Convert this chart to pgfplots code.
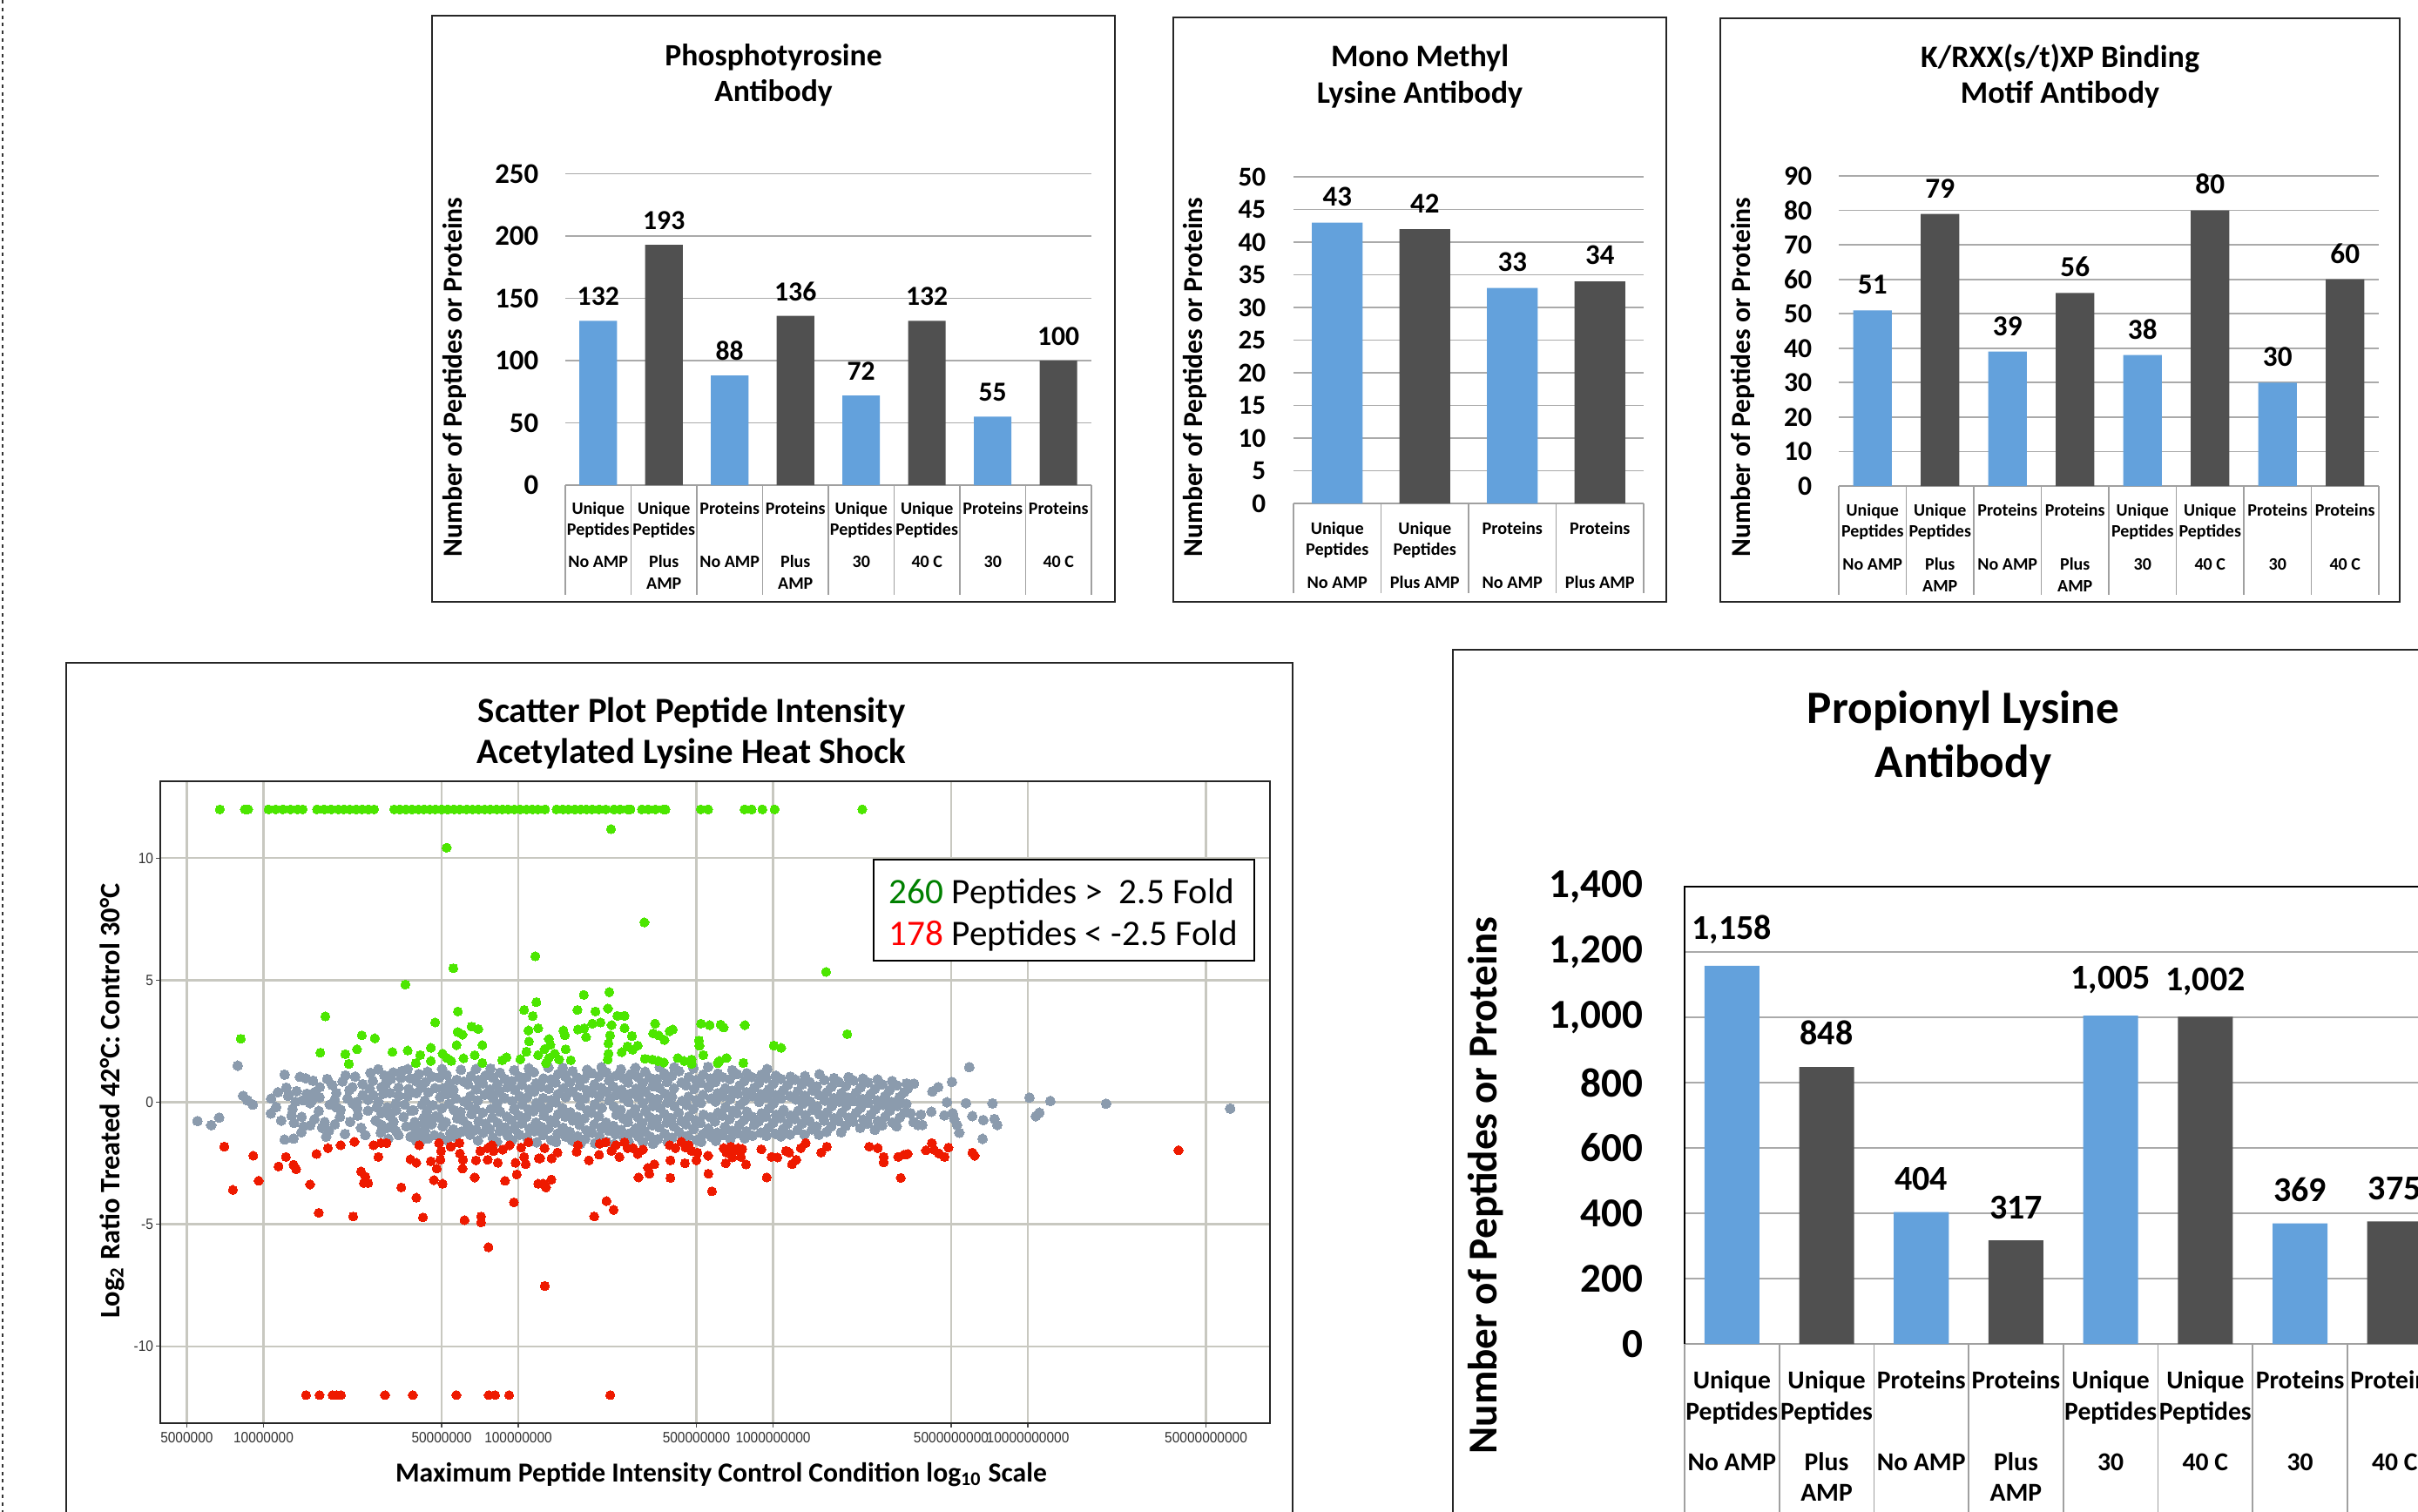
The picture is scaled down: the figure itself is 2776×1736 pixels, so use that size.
\documentclass[border=0pt]{standalone}
\usepackage{pgfplots}
\pgfplotsset{compat=1.18}
\usepackage{fontspec}
\setmainfont{Carlito}
\newfontfamily\arialf[FakeStretch=0.9]{Liberation Sans}
\definecolor{barblue}{RGB}{99,161,220}
\definecolor{bardark}{RGB}{80,80,80}
\definecolor{gridgray}{RGB}{170,170,170}
\definecolor{sepgray}{RGB}{160,160,160}
\definecolor{sgray}{RGB}{139,155,173}
\definecolor{sgreen}{RGB}{76,230,0}
\definecolor{sred}{RGB}{238,26,0}
\definecolor{sgrid}{RGB}{200,200,192}
\definecolor{lgreen}{RGB}{0,128,0}
\newcommand\fs[1]{\fontsize{#1}{#1}\selectfont}
\pgfplotsset{
 bars/.style={
   scale only axis, ybar, bar shift=0pt,
   xmin=-0.5, xmax=7.5, ymin=0,
   axis x line*=bottom, axis y line*=left,
   y axis line style={draw=none},
   x axis line style={-, draw=sepgray, line width=0.4pt},
   xtick=\empty,
   major tick length=0pt, ytick style={draw=none},
   ymajorgrids, grid style={draw=gridgray, line width=0.45pt},
   /pgf/number format/assume math mode=true,
   /pgf/number format/1000 sep={,},
   nodes near coords,
   clip=false,
   anchor=south west,
 },
 bblue/.style={fill=barblue, draw=none},
 bdark/.style={fill=bardark, draw=none},
}
\newcommand\cateight[7]{%
 \foreach \i/\a/\b/\c/\d in {0/Unique/Peptides/No AMP/{},1/Unique/Peptides/Plus/AMP,2/Proteins/{}/No AMP/{},3/Proteins/{}/Plus/AMP,4/Unique/Peptides/30/{},5/Unique/Peptides/40 C/{},6/Proteins/{}/30/{},7/Proteins/{}/40 C/{}}{%
   \path[font=\fs{#7}\bfseries] ({#1+#2*(\i+0.5)},#3) node[anchor=base,inner sep=0pt]{\a}
     ({#1+#2*(\i+0.5)},#4) node[anchor=base,inner sep=0pt]{\b}
     ({#1+#2*(\i+0.5)},#5) node[anchor=base,inner sep=0pt]{\c}
     ({#1+#2*(\i+0.5)},#6) node[anchor=base,inner sep=0pt]{\d};}}
\newcommand\seps[5]{\foreach \k in {0,...,#5}{\draw[sepgray, line width=0.4pt] ({#1+#2*\k},#3) -- ({#1+#2*\k},#4);}}
\begin{document}
\begin{tikzpicture}[x=0.25pt,y=-0.25pt]
\useasboundingbox (0,0) rectangle (2776,1736);
\clip (0,0) rectangle (2776,1736);
\fill[white] (0,0) rectangle (2776,1736);
% left dotted edge
\draw[black!80, line width=0.5pt, dash pattern=on 1pt off 1.2pt] (3,0) -- (3,1736);
% ---------------- Panel frames
\draw[black!85, line width=0.6pt] (496,18) rectangle (1280,691);
\draw[black!85, line width=0.6pt] (1347,20) rectangle (1913,691);
\draw[black!85, line width=0.6pt] (1975,21) rectangle (2755,691);
\draw[black!85, line width=0.6pt] (76,1760) -- (76,761) -- (1484,761) -- (1484,1760);
\draw[black!85, line width=0.6pt] (1668,1760) -- (1668,746) -- (2800,746);
% ================= Phosphotyrosine
\node[font=\fs{8.9pt}\bfseries, anchor=base] at (888,75) {Phosphotyrosine};
\node[font=\fs{8.9pt}\bfseries, anchor=base] at (888,116) {Antibody};
\node[font=\fs{7.9pt}\bfseries, rotate=90] at (522,433) {Number of Peptides or Proteins};
\begin{axis}[bars, at={(649*0.25pt,-557*0.25pt)}, width=151pt, height=89.375pt, ymax=250, ytick={0,50,...,250}, bar width=0.57,
 yticklabel style={font=\fs{8.2pt}\bfseries, inner sep=0pt, xshift=-7.5pt},
 nodes near coords style={font=\fs{7.9pt}\bfseries, inner sep=0pt, anchor=south, yshift=4.1pt}]
\addplot[bblue] coordinates {(0,132) (2,88) (4,72) (6,55)};
\addplot[bdark] coordinates {(1,193) (3,136) (5,132) (7,100)};
\end{axis}
\seps{649}{75.5}{557}{683}{8}
\cateight{649}{75.5}{590}{614}{651}{676}{5pt}
% ================= Mono Methyl
\node[font=\fs{9pt}\bfseries, anchor=base] at (1630,76) {Mono Methyl};
\node[font=\fs{9pt}\bfseries, anchor=base] at (1630,118) {Lysine Antibody};
\node[font=\fs{7.9pt}\bfseries, rotate=90] at (1372,433) {Number of Peptides or Proteins};
\begin{axis}[bars, at={(1485*0.25pt,-578*0.25pt)}, width=100.5pt, height=93.75pt, xmax=3.5, ymax=50, ytick={0,5,...,50}, bar width=0.58,
 yticklabel style={font=\fs{7.8pt}\bfseries, inner sep=0pt, xshift=-7.75pt},
 nodes near coords style={font=\fs{8.2pt}\bfseries, inner sep=0pt, anchor=south, yshift=4.5pt}]
\addplot[bblue] coordinates {(0,43) (2,33)};
\addplot[bdark] coordinates {(1,42) (3,34)};
\end{axis}
\seps{1485}{100.5}{578}{681}{4}
\foreach \i/\a/\b/\c in {0/Unique/Peptides/No AMP,1/Unique/Peptides/Plus AMP,2/Proteins/{}/No AMP,3/Proteins/{}/Plus AMP}{%
  \path[font=\fs{5.05pt}\bfseries] ({1485+100.5*(\i+0.5)},613) node[anchor=base,inner sep=0pt]{\a}
   ({1485+100.5*(\i+0.5)},637) node[anchor=base,inner sep=0pt]{\b}
   ({1485+100.5*(\i+0.5)},675) node[anchor=base,inner sep=0pt]{\c};}
% ================= K/RXX
\node[font=\fs{9pt}\bfseries, anchor=base] at (2365,77) {K/RXX(s/t)XP Binding};
\node[font=\fs{9pt}\bfseries, anchor=base] at (2365,118) {Motif Antibody};
\node[font=\fs{7.9pt}\bfseries, rotate=90] at (2001,433) {Number of Peptides or Proteins};
\begin{axis}[bars, at={(2111*0.25pt,-558*0.25pt)}, width=155pt, height=89pt, ymax=90, ytick={0,10,...,90}, bar width=0.57,
 yticklabel style={font=\fs{7.9pt}\bfseries, inner sep=0pt, xshift=-7.5pt},
 nodes near coords style={font=\fs{8.3pt}\bfseries, inner sep=0pt, anchor=south, yshift=4.4pt}]
\addplot[bblue] coordinates {(0,51) (2,39) (4,38) (6,30)};
\addplot[bdark] coordinates {(1,79) (3,56) (5,80) (7,60)};
\end{axis}
\seps{2111}{77.5}{558}{683}{8}
\cateight{2111}{77.5}{592}{616}{654}{679}{5pt}
% ================= Propionyl
\node[font=\fs{13.3pt}\bfseries, anchor=base] at (2254,830) {Propionyl Lysine};
\node[font=\fs{13.3pt}\bfseries, anchor=base] at (2254,892) {Antibody};
\node[font=\fs{11.8pt}\bfseries, rotate=90] at (1706,1361) {Number of Peptides or Proteins};
\begin{axis}[bars, at={(1934*0.25pt,-1543*0.25pt)}, width=217.4pt, height=131.25pt, ymax=1400, ytick={0,200,...,1400}, bar width=0.58,
 yticklabel style={font=\fs{11.8pt}\bfseries, inner sep=0pt, xshift=-11.75pt},
 nodes near coords style={font=\fs{10pt}\bfseries, inner sep=0pt, anchor=south, yshift=6pt}]
\addplot[bblue] coordinates {(0,1158) (2,404) (4,1005) (6,369)};
\addplot[bdark] coordinates {(1,848) (3,317) (5,1002) (7,375)};
\end{axis}
\draw[black, line width=0.6pt] (1934,1543) -- (1934,1018) -- (2810,1018);
\seps{1934}{108.7}{1543}{1740}{8}
\cateight{1934}{108.7}{1594}{1630}{1688}{1723}{7.4pt}
% ================= Scatter
\node[font=\fs{10.2pt}\bfseries, anchor=base] at (794,829) {Scatter Plot Peptide Intensity};
\node[font=\fs{10.2pt}\bfseries, anchor=base] at (794,876) {Acetylated Lysine Heat Shock};
\node[font=\fs{8.1pt}\bfseries, rotate=90] at (129,1264) {Log\textsubscript{2} Ratio Treated 42°C: Control 30°C};
\node[font=\fs{7.9pt}\bfseries, anchor=base] at (828,1701) {Maximum Peptide Intensity Control Condition log\textsubscript{10} Scale};
\begin{axis}[scale only axis, at={(184*0.25pt,-1634*0.25pt)}, anchor=south west, width=318.5pt, height=184.25pt,
 xmin=6.595, xmax=10.95, ymin=-13.15, ymax=13.15,
 xtick={6.69897,7,7.69897,8,8.69897,9,9.69897,10,10.69897},
 xticklabels={5000000,10000000,50000000,100000000,500000000,1000000000,5000000000,10000000000,50000000000},
 ytick={-10,-5,0,5,10}, yticklabels={-10,-5,0,5,10},
 grid=major, grid style={draw=sgrid, line width=0.6pt},
 tick align=outside, major tick length=1.2pt, tick style={black!70, line width=0.3pt},
 xtick pos=lower, ytick pos=left,
 axis line style={black!85, line width=0.5pt},
 ticklabel style={font=\arialf\fs{4.3pt}, text=black!80},
 yticklabel style={inner sep=0.6pt}, xticklabel style={inner sep=1.2pt},
 mark size=1.3pt]
\addplot[only marks, mark=*, mark size=1.4pt, color=sgray, mark options={draw=sgray, fill=sgray, line width=0pt}] coordinates {
(6.741,-0.77)(6.795,-0.94)(6.826,-0.63)(6.899,1.50)(6.92,0.26)(6.937,0.08)(6.958,-0.10)(7.029,-0.46)(7.083,1.13)(7.057,0.41)(7.083,-1.53)(7.118,-1.49)(7.143,1.04)(7.166,0.98)(7.194,0.88)(7.221,0.62)(7.097,0.26)(7.126,0.02)(7.154,0.08)(7.183,-0.04)(7.114,-0.27)(7.217,-0.36)(7.189,0.05)(7.157,-0.99)(7.183,-0.95)(7.149,-1.23)(7.24,-0.81)(7.28,-0.91)(7.257,-1.17)(7.246,-1.41)(7.286,0.38)(7.322,1.10)(7.337,0.50)(7.349,0.62)(7.286,-0.21)(7.303,-0.31)(7.368,0.02)(7.368,-0.24)(7.383,-1.05)(7.389,0.74)(7.417,0.56)(7.429,0.88)(7.474,1.10)(7.509,1.22)(7.543,1.28)(7.566,1.36)(7.577,0.98)(7.6,0.86)(7.463,0.62)(7.497,0.38)(7.531,0.26)(7.566,0.26)(7.6,0.38)(7.623,-0.10)(7.451,0.02)(7.486,-0.21)(7.52,-0.33)(7.554,-0.10)(7.589,-0.33)(7.463,-0.45)(7.497,-0.57)(7.463,-0.93)(7.486,-1.05)(7.52,-1.17)(7.56,-0.99)(7.594,-0.81)(7.629,-0.63)(7.577,-1.41)(7.6,-1.59)(7.623,-1.53)(7.612,-1.41)(7.48,0.75)(7.53,0.6)(7.55,-0.6)(7.51,-0.8)(7.6,-1.2)(7.445,-0.2)(7.43,0.3)
(7.03,0.15)(7.05,-0.2)(7.07,-0.75)(7.09,0.6)(7.11,-0.55)(7.13,0.45)(7.15,-0.6)(7.17,0.35)(7.2,-0.7)(7.22,0.2)(7.23,-1.05)(7.25,0.95)(7.26,-0.1)(7.27,0.7)(7.3,-0.6)(7.31,0.85)(7.32,-1.3)(7.33,0.15)(7.34,-0.8)(7.36,1.05)(7.37,-0.55)(7.39,0.3)(7.4,-1.35)(7.41,-0.35)(7.42,1.2)(7.44,-0.75)(7.45,1.35)(7.46,-1.25)(7.47,0.35)(7.49,-1.5)(7.5,0.95)(7.52,-0.05)(7.53,-1.35)(7.54,1.0)(7.57,0.55)(7.58,-0.35)(7.59,-1.0)(7.61,1.15)(7.62,0.6)(7.63,-0.95)(7.41,0.1)(7.35,-0.05)(7.28,0.1)(7.2,0.4)(7.12,-0.85)
(7.644,1.25)(7.636,0.83)(7.647,0.40)(7.633,0.07)(7.641,-0.38)(7.649,-0.70)(7.634,-1.15)(7.645,-1.49)
(7.662,1.05)(7.673,0.58)(7.665,-0.12)(7.676,-0.57)(7.66,-0.90)(7.671,-1.35)
(7.701,1.36)(7.69,1.01)(7.705,0.57)(7.693,0.21)(7.7,-0.25)(7.689,-0.63)(7.703,-0.99)(7.694,-1.43)
(7.719,1.12)(7.731,0.78)(7.722,0.33)(7.728,-0.07)(7.716,-0.82)(7.733,-1.27)(7.72,-1.56)
(7.758,0.92)(7.746,0.51)(7.756,0.15)(7.748,-0.33)(7.76,-0.66)(7.745,-1.11)(7.754,-1.43)
(7.775,1.33)(7.786,0.85)(7.788,0.03)(7.774,-0.39)(7.784,-0.75)(7.777,-1.21)
(7.814,1.07)(7.803,0.73)(7.812,0.25)(7.806,-0.15)(7.816,-0.49)(7.802,-0.95)(7.811,-1.33)
(7.834,1.36)(7.843,0.91)(7.836,0.53)(7.841,0.07)(7.832,-0.27)(7.844,-0.77)(7.835,-1.11)(7.842,-1.57)
(7.871,1.09)(7.861,0.77)(7.869,0.31)(7.86,-0.43)(7.872,-0.89)(7.863,-1.25)
(7.891,1.38)(7.899,1.01)(7.889,0.53)(7.901,0.17)(7.893,-0.27)(7.898,-0.63)(7.888,-1.09)(7.9,-1.45)
(7.928,1.21)(7.918,0.75)(7.926,0.41)(7.917,-0.05)(7.929,-0.39)(7.92,-0.85)(7.927,-1.19)(7.916,-1.62)
(7.948,0.95)(7.957,0.61)(7.946,0.17)(7.955,-0.59)(7.949,-1.03)(7.958,-1.37)
(7.984,1.31)(7.975,0.87)(7.986,0.51)(7.977,0.05)(7.983,-0.29)(7.974,-0.73)(7.985,-1.09)(7.976,-1.55)
(8.004,1.05)(8.014,0.71)(8.006,0.25)(8.015,-0.09)(8.003,-0.55)(8.012,-0.87)(8.005,-1.33)
(8.041,1.39)(8.032,1.03)(8.043,0.53)(8.034,0.19)(8.04,-0.29)(8.031,-0.61)(8.044,-1.07)(8.033,-1.43)
(8.061,1.23)(8.07,0.77)(8.062,0.43)(8.071,-0.03)(8.06,-0.37)(8.069,-0.83)(8.063,-1.19)(8.072,-1.64)
(8.099,0.97)(8.09,0.63)(8.098,0.17)(8.089,-0.23)(8.1,-0.55)(8.091,-1.01)(8.097,-1.35)
(8.118,1.42)(8.128,0.93)(8.12,0.55)(8.129,0.09)(8.117,-0.25)(8.127,-0.73)(8.119,-1.07)(8.13,-1.55)
(8.156,1.15)(8.146,0.81)(8.155,0.33)(8.147,-0.01)(8.157,-0.49)(8.145,-0.83)(8.154,-1.29)(8.148,-1.63)
(8.175,1.41)(8.185,1.05)(8.177,0.57)(8.186,0.21)(8.174,-0.25)(8.184,-0.59)(8.176,-1.05)(8.187,-1.41)
(8.213,1.27)(8.203,0.81)(8.212,0.45)(8.204,-0.41)(8.214,-0.75)(8.202,-1.21)(8.211,-1.57)
(8.232,1.01)(8.242,0.67)(8.234,0.21)(8.243,-0.13)(8.231,-0.59)(8.241,-0.93)(8.233,-1.39)(8.244,-1.70)
(8.27,1.33)(8.26,0.97)(8.269,0.49)(8.261,0.15)(8.271,-0.33)(8.259,-0.67)(8.268,-1.15)(8.262,-1.51)
(8.289,1.19)(8.299,0.73)(8.291,0.39)(8.3,-0.09)(8.288,-0.43)(8.298,-0.91)(8.29,-1.25)(8.301,-1.68)
(8.327,1.44)(8.317,1.07)(8.326,0.59)(8.318,0.23)(8.328,-0.23)(8.316,-0.57)(8.325,-1.03)(8.319,-1.39)
(8.346,1.23)(8.356,0.89)(8.348,0.41)(8.357,0.07)(8.345,-0.83)(8.355,-1.17)(8.347,-1.62)
(8.384,1.09)(8.374,0.63)(8.383,0.29)(8.375,-0.17)(8.385,-0.51)(8.373,-0.97)(8.382,-1.31)(8.376,-1.72)
(8.403,1.35)(8.413,0.99)(8.405,0.51)(8.414,0.17)(8.402,-0.31)(8.412,-0.67)(8.404,-1.13)(8.415,-1.47)
(8.441,1.15)(8.431,0.81)(8.44,0.35)(8.432,0.01)(8.442,-0.47)(8.43,-0.81)(8.439,-1.27)(8.433,-1.61)
(8.46,1.41)(8.47,1.03)(8.462,0.55)(8.471,0.21)(8.459,-0.27)(8.469,-0.61)(8.461,-1.07)(8.472,-1.41)
(8.498,1.25)(8.488,0.79)(8.497,0.43)(8.489,-0.03)(8.499,-0.37)(8.487,-0.85)(8.496,-1.19)(8.49,-1.64)
(8.517,0.99)(8.527,0.65)(8.519,0.19)(8.528,-0.15)(8.516,-0.61)(8.526,-0.95)(8.518,-1.41)(8.529,-1.70)
(8.555,1.43)(8.545,0.95)(8.554,0.59)(8.546,0.13)(8.556,-0.23)(8.544,-0.69)(8.553,-1.03)(8.547,-1.51)
(8.574,1.17)(8.584,0.83)(8.576,0.35)(8.585,-0.01)(8.573,-0.47)(8.583,-0.83)(8.575,-1.29)(8.586,-1.63)
(8.612,1.43)(8.602,1.07)(8.611,0.57)(8.603,0.23)(8.613,-0.17)(8.601,-0.65)(8.61,-0.99)(8.604,-1.45)
(8.631,1.27)(8.641,0.81)(8.642,0.05)(8.63,-0.43)(8.64,-0.77)(8.632,-1.23)(8.643,-1.56)
(8.669,1.03)(8.659,0.69)(8.668,0.23)(8.66,-0.11)(8.67,-0.57)(8.658,-0.91)(8.667,-1.37)(8.661,-1.66)
(8.688,1.39)(8.698,0.91)(8.69,0.55)(8.699,0.09)(8.687,-0.27)(8.697,-0.75)(8.689,-1.09)(8.7,-1.55)
(8.726,1.13)(8.716,0.79)(8.725,0.31)(8.717,-0.03)(8.727,-0.51)(8.715,-0.85)(8.724,-1.31)(8.718,-1.62)
(8.745,1.45)(8.755,0.97)(8.747,0.61)(8.756,0.15)(8.754,-0.61)(8.746,-1.07)(8.757,-1.41)
(8.783,1.17)(8.773,0.83)(8.782,0.37)(8.774,0.03)(8.784,-0.43)(8.772,-0.79)(8.781,-1.25)(8.775,-1.58)
(8.802,1.03)(8.812,0.57)(8.804,0.25)(8.813,-0.21)(8.801,-0.55)(8.811,-1.01)(8.803,-1.35)
(8.84,1.31)(8.83,0.95)(8.839,0.47)(8.831,0.13)(8.841,-0.35)(8.829,-0.69)(8.838,-1.17)(8.832,-1.51)
(8.859,1.15)(8.869,0.69)(8.861,0.35)(8.87,-0.11)(8.858,-0.45)(8.868,-0.93)(8.86,-1.27)
(8.897,1.19)(8.887,0.87)(8.896,0.41)(8.888,0.07)(8.898,-0.39)(8.886,-0.73)(8.895,-1.19)(8.889,-1.48)
(8.916,1.03)(8.926,0.59)(8.918,0.25)(8.917,-0.59)(8.925,-0.93)(8.919,-1.37)
(8.954,1.13)(8.944,0.79)(8.953,0.33)(8.945,0.01)(8.955,-0.45)(8.943,-0.79)(8.952,-1.25)
(8.973,0.99)(8.983,0.53)(8.975,0.19)(8.984,-0.25)(8.972,-0.59)(8.982,-1.05)(8.974,-1.38)
(9.011,1.09)(9.001,0.75)(9.01,0.29)(9.002,-0.05)(9.012,-0.51)(9.0,-0.85)(9.009,-1.29)
(9.03,0.95)(9.04,0.49)(9.032,0.15)(9.041,-0.31)(9.029,-0.65)(9.039,-1.09)(9.031,-1.40)
(9.068,1.05)(9.058,0.71)(9.067,0.25)(9.068,-0.55)(9.057,-0.89)(9.066,-1.32)
(9.087,0.93)(9.097,0.45)(9.089,0.11)(9.098,-0.35)(9.086,-0.69)(9.096,-1.13)
(9.125,1.07)(9.115,0.73)(9.124,0.27)(9.116,-0.07)(9.126,-0.53)(9.114,-0.87)(9.123,-1.33)
(9.144,0.83)(9.154,0.49)(9.146,0.03)(9.155,-0.31)(9.143,-0.77)(9.153,-1.11)
(9.182,1.15)(9.172,0.65)(9.181,0.29)(9.173,-0.17)(9.183,-0.51)(9.171,-0.99)(9.18,-1.33)
(9.201,0.91)(9.211,0.41)(9.203,0.07)(9.212,-0.41)(9.2,-0.75)(9.21,-1.21)
(9.239,0.99)(9.229,0.63)(9.238,0.17)(9.23,-0.17)(9.24,-0.65)(9.228,-0.99)
(9.258,0.83)(9.268,0.37)(9.26,0.03)(9.269,-0.43)(9.257,-0.77)(9.267,-1.23)
(9.296,1.03)(9.286,0.67)(9.295,0.19)(9.287,-0.15)(9.297,-0.63)(9.285,-0.97)
(9.315,0.89)(9.325,0.39)(9.317,0.05)(9.326,-0.43)(9.314,-0.79)
(9.353,0.97)(9.343,0.61)(9.352,0.13)(9.344,-0.23)(9.354,-0.71)(9.342,-1.05)
(9.372,0.81)(9.382,0.33)(9.374,-0.03)(9.383,-0.51)(9.371,-0.87)
(9.41,0.93)(9.4,0.55)(9.409,0.07)(9.401,-0.29)(9.411,-0.77)(9.399,-1.13)
(9.429,0.73)(9.439,0.25)(9.431,-0.11)(9.44,-0.59)(9.428,-0.95)
(9.467,0.87)(9.457,0.49)(9.466,0.01)(9.458,-0.35)(9.468,-0.83)
(9.486,0.69)(9.496,0.21)(9.488,-0.15)(9.497,-0.63)(9.485,-0.99)
(9.524,0.77)(9.514,0.41)(9.523,-0.07)(9.515,-0.43)
(9.528,0.56)(9.553,0.76)(9.625,0.44)(9.648,0.62)(9.702,0.83)(9.77,1.44)(9.682,0.0)(9.757,-0.04)(9.861,-0.05)(9.54,-0.45)(9.551,-0.81)(9.58,-0.51)(9.586,-0.93)(9.568,-0.93)(9.621,-0.39)(9.672,-0.54)(9.705,-0.45)(9.711,-0.69)(9.722,-0.93)(9.731,-1.25)(9.782,-0.57)(9.825,-0.73)(9.869,-0.69)(9.88,-0.93)(9.822,-1.50)(10.006,0.19)(10.088,0.05)(10.031,-0.57)(10.045,-0.43)(10.307,-0.06)(10.794,-0.26)(8.977,1.36)
};
\addplot[only marks, mark=*, color=sred, mark options={draw=sred, fill=sred, line width=0pt}] coordinates {
(6.846,-1.82)(6.88,-3.59)(6.96,-2.19)(6.981,-3.22)(7.059,-2.63)(7.088,-2.24)(7.118,-2.56)(7.128,-2.74)(7.183,-3.37)(7.208,-2.12)(7.217,-4.53)(7.253,-1.88)(7.303,-1.76)(7.352,-4.68)(7.357,-1.62)(7.383,-2.84)(7.4,-3.05)(7.411,-3.31)(7.394,-3.31)(7.432,-1.76)(7.451,-2.24)(7.461,-1.67)(7.483,-1.67)(7.541,-3.49)(7.577,-2.34)(7.6,-2.48)(7.6,-3.91)(7.611,-1.76)(7.626,-4.72)(7.657,-2.42)(7.669,-3.19)(7.68,-2.72)(7.689,-1.67)(7.697,-2.00)(7.703,-3.34)(7.694,-2.36)(7.735,-1.82)(7.769,-1.67)(7.771,-2.10)(7.783,-2.36)(7.781,-2.72)(7.789,-4.83)(7.829,-3.08)(7.834,-2.38)(7.851,-2.00)(7.854,-4.68)(7.854,-4.92)(7.88,-2.36)(7.883,-5.94)(7.897,-1.76)(7.92,-2.48)(7.939,-1.94)(7.948,-3.22)(7.966,-1.76)(7.983,-4.10)(7.989,-2.48)(7.994,-2.96)(8.011,-1.86)(8.023,-2.24)(8.029,-2.54)(8.04,-1.64)(8.078,-3.34)(8.08,-2.30)(7.88,-1.88)(7.903,-2.00)
(8.103,-1.88)(8.086,-2.30)(8.131,-2.30)(8.154,-2.06)(8.097,-3.34)(8.109,-3.49)(8.13,-3.17)(8.234,-1.76)(8.229,-2.03)(8.277,-2.38)(8.319,-1.70)(8.343,-1.64)(8.317,-2.15)(8.366,-2.00)(8.383,-1.76)(8.397,-2.24)(8.417,-1.64)(8.429,-1.88)(8.451,-1.88)(8.469,-2.12)(8.489,-1.94)(8.509,-2.69)(8.514,-2.93)(8.534,-2.54)(8.472,-3.08)(8.346,-4.05)(8.374,-4.41)(8.298,-4.68)(8.594,-1.76)(8.617,-1.88)(8.64,-1.62)(8.657,-1.86)(8.669,-1.76)(8.68,-2.00)(8.703,-2.06)(8.597,-2.38)(8.654,-2.50)(8.699,-2.38)(8.745,-2.19)(8.746,-2.93)(8.76,-3.65)(8.597,-3.10)(8.806,-1.88)(8.817,-2.06)(8.834,-1.82)(8.846,-2.00)(8.863,-1.88)(8.879,-1.91)(8.84,-2.26)(8.874,-2.24)(8.814,-2.50)(8.894,-2.55)(8.954,-1.93)(8.975,-3.08)(8.994,-2.24)(9.017,-2.26)(9.051,-2.00)(9.063,-2.06)(9.074,-2.54)(9.091,-2.36)(9.109,-1.88)(9.128,-1.67)(9.189,-2.06)(9.211,-1.82)(9.377,-1.82)(9.411,-1.88)(9.434,-2.24)(9.434,-2.46)(9.501,-3.10)(9.491,-2.24)(9.514,-2.15)
(9.528,-2.12)(9.6,-1.97)(9.623,-1.67)(9.631,-1.94)(9.651,-2.10)(9.673,-2.24)(9.688,-1.86)(9.782,-2.06)(9.791,-2.19)(10.591,-1.97)(8.104,-7.53)
(7.167,-12)(7.22,-12)(7.271,-12)(7.287,-12)(7.304,-12)(7.477,-12)(7.586,-12)(7.757,-12)(7.884,-12)(7.909,-12)(7.964,-12)(8.361,-12)
};
\addplot[only marks, mark=*, color=sgreen, mark options={draw=sgreen, fill=sgreen, line width=0pt}] coordinates {
(6.829,12)(6.927,12)(6.94,12)(7.02,12)(7.048,12)(7.076,12)(7.106,12)(7.134,12)(7.154,12)(7.21,12)(7.238,12)(7.266,12)(7.294,12)(7.316,12)(7.339,12)(7.364,12)(7.387,12)(7.412,12)(7.434,12)(7.513,12)(7.535,12)(7.559,12)(7.583,12)(7.608,12)(7.63,12)(7.653,12)(7.675,12)(7.699,12)(7.723,12)(7.748,12)(7.77,12)(7.798,12)(7.82,12)(7.843,12)(7.868,12)(7.89,12)(7.915,12)(7.938,12)(7.96,12)(7.985,12)(8.007,12)(8.032,12)(8.055,12)(8.077,12)(8.105,12)(8.15,12)(8.175,12)(8.197,12)(8.222,12)(8.245,12)(8.267,12)(8.29,12)(8.317,12)(8.343,12)(8.376,12)(8.399,12)(8.429,12)(8.44,12)(8.485,12)(8.51,12)(8.538,12)(8.569,12)(8.578,12)(8.716,12)(8.745,12)(8.888,12)(8.916,12)(8.958,12)(9.006,12)(9.35,12)
(7.719,10.43)(8.364,11.19)(8.495,7.37)(8.067,5.98)
(6.911,2.60)(7.243,3.52)(7.223,2.03)(7.321,1.97)(7.335,1.57)(7.367,2.17)(7.386,2.74)(7.437,2.62)(7.506,2.06)(7.566,2.12)(7.557,4.82)(7.598,1.60)(7.615,1.93)(7.657,2.23)(7.657,1.69)(7.674,3.27)(7.703,1.99)(7.72,1.81)(7.737,1.69)(7.745,5.49)(7.758,2.34)(7.762,2.88)(7.781,2.77)(7.763,3.72)(7.785,1.80)(7.817,3.10)(7.843,3.00)(7.829,1.93)(7.859,2.34)(7.859,1.61)(7.937,1.72)(7.954,1.84)(8.008,1.76)(8.023,3.78)(8.057,3.53)(8.071,4.10)(8.04,2.94)(8.042,2.49)(8.032,2.07)(8.078,3.03)(8.078,1.93)
(8.257,4.40)(8.357,4.51)(8.232,3.78)(8.303,3.72)(8.352,3.84)(8.291,3.22)(8.323,3.27)(8.234,2.98)(8.259,3.03)(8.266,2.67)(8.366,3.16)(8.389,3.54)(8.417,3.54)(8.417,3.04)(8.446,2.71)(8.36,2.74)(8.354,2.41)(8.177,2.94)(8.183,2.74)(8.12,2.59)(8.126,2.35)(8.103,2.17)(8.186,2.17)(8.143,1.99)(8.12,1.81)(8.16,1.75)(8.206,1.72)(8.109,1.60)(8.354,1.99)(8.351,1.75)(8.406,2.05)(8.429,2.29)(8.449,2.15)(8.469,2.32)(8.497,1.78)(8.526,1.75)(8.549,1.69)(8.571,1.63)(8.537,3.22)(8.529,2.82)(8.551,2.74)(8.574,2.55)(8.594,2.91)(8.606,2.98)(8.626,1.81)(8.651,1.69)(8.68,1.75)(8.68,1.57)(8.709,2.53)(8.711,2.31)(8.717,3.22)(8.726,1.93)(8.751,3.16)(8.794,3.18)(8.806,3.06)(8.889,3.16)(8.817,1.81)(8.789,1.69)(8.783,1.60)(8.883,1.61)(9.003,2.32)(9.032,2.23)(9.208,5.34)(9.291,2.79)
};
\end{axis}
% legend box
\draw[black, fill=white, line width=0.5pt] (1003,987) rectangle (1440,1103);
\node[font=\fs{10.3pt}, anchor=base west, inner sep=0pt] at (1020,1037) {\textcolor{lgreen}{260} Peptides >\ \ 2.5 Fold};
\node[font=\fs{10.3pt}, anchor=base west, inner sep=0pt] at (1020,1085) {\textcolor{red}{178} Peptides < -2.5 Fold};
\end{tikzpicture}
\end{document}
